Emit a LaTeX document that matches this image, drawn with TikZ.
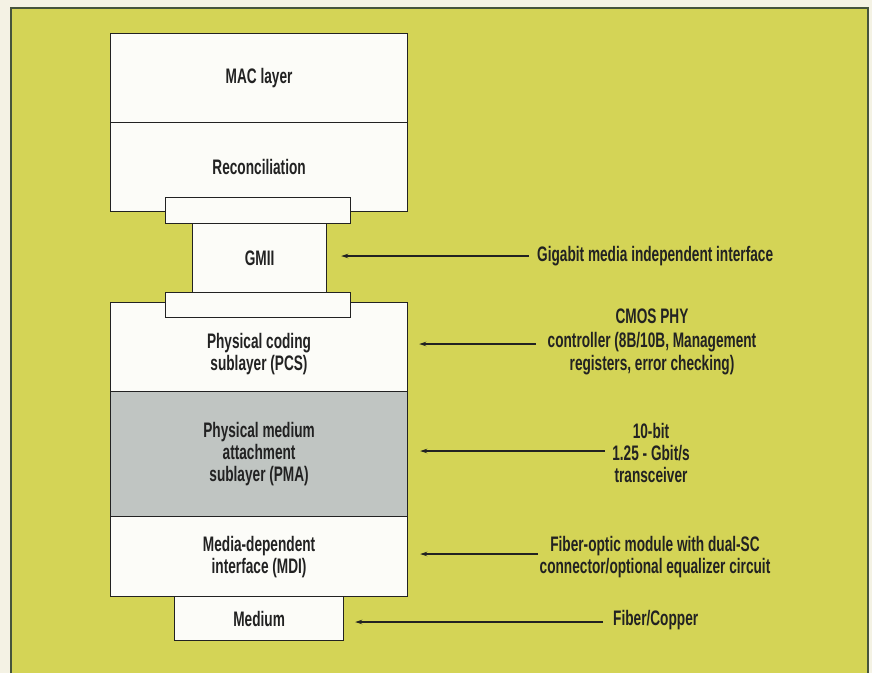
\documentclass[tikz,border=0pt]{standalone}
\usepackage{fontspec}
\newfontfamily\lblfont[FakeStretch=0.65]{Liberation Sans Bold}
\usetikzlibrary{arrows.meta}
\definecolor{paper}{RGB}{244,242,228}
\definecolor{panel}{RGB}{212,212,86}
\definecolor{frameline}{RGB}{70,84,60}
\definecolor{ink}{RGB}{34,34,34}
\definecolor{boxfill}{RGB}{252,252,248}
\definecolor{pmafill}{RGB}{192,197,194}
\begin{document}
\begin{tikzpicture}[x=1pt,y=-1pt,
  every node/.style={font=\lblfont\fontsize{21}{22}\selectfont, text=ink},
  layer/.style={draw=ink, line width=1.2pt, fill=boxfill, inner sep=0pt, anchor=north west},
  plate/.style={layer},
  caption/.style={inner sep=0pt},
  arr/.style={draw=ink, line width=1.2pt, -{Stealth[length=7pt,width=4.5pt]}}
]
\useasboundingbox (0,0) rectangle (872,673);
% page and panel
\fill[paper] (0,0) rectangle (872,673);
\fill[panel] (11,8) rectangle (868,673);
\draw[frameline, line width=1.5pt] (11,673) -- (11,8) -- (868,8) -- (868,673);

% protocol stack
\node[layer, minimum width=297pt, minimum height=89pt] (mac) at (110,33) {MAC layer};
\node[layer, minimum width=297pt, minimum height=89pt] (recon) at (110,122) {Reconciliation};
\node[layer, minimum width=134pt, minimum height=69pt] (gmii) at (192,223) {GMII};
\node[layer, minimum width=297pt, minimum height=89pt] (pcs) at (110,302) {};
\node[layer, fill=pmafill, minimum width=297pt, minimum height=125pt, align=center] (pma) at (110,391) {Physical medium\\attachment\\sublayer (PMA)};
\node[layer, minimum width=297pt, minimum height=80pt, align=center] (mdi) at (110,516) {Media-dependent\\interface (MDI)};
\node[layer, minimum width=169pt, minimum height=44pt] (medium) at (174,596) {Medium};
\node[plate, minimum width=185pt, minimum height=26pt] (plateA) at (165,197) {};
\node[plate, minimum width=185pt, minimum height=25pt] (plateB) at (165,292) {};
\node[caption, align=center] (pcsT) at (259,354) {Physical coding\\sublayer (PCS)};

% descriptions
\node[caption, anchor=west] (lgmii) at (537,256) {Gigabit media independent interface};
\node[caption, align=center, font=\lblfont\fontsize{21}{23.5}\selectfont] (lpcs) at (652,342) {CMOS PHY\\controller (8B/10B, Management\\registers, error checking)};
\node[caption, align=center] (lpma) at (651,453) {10-bit\\1.25 - Gbit/s\\transceiver};
\node[caption, align=center] (lmdi) at (655,557) {Fiber-optic module with dual-SC\\connector/optional equalizer circuit};
\node[caption, anchor=west] (lmed) at (613,620) {Fiber/Copper};

% pointers
\coordinate (s1) at (529,256);
\coordinate (s2) at (536,344);
\coordinate (s3) at (605,451);
\coordinate (s4) at (538,554);
\coordinate (s5) at (603,622);
\draw[arr, shorten >=14pt] (s1) -- (s1 -| gmii.east);
\draw[arr, shorten >=11pt] (s2) -- (s2 -| pcs.east);
\draw[arr, shorten >=12pt] (s3) -- (s3 -| pma.east);
\draw[arr, shorten >=12pt] (s4) -- (s4 -| mdi.east);
\draw[arr, shorten >=11pt] (s5) -- (s5 -| medium.east);
\end{tikzpicture}
\end{document}
